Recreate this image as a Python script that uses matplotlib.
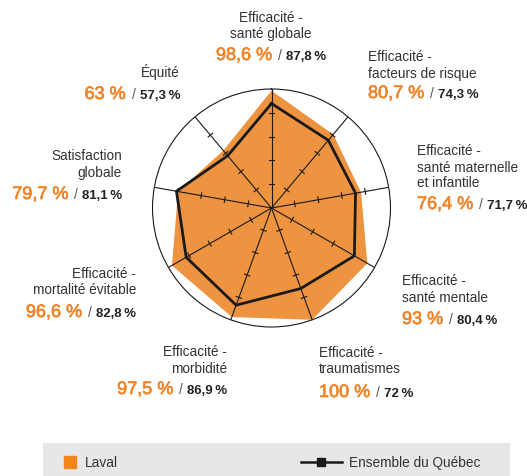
import numpy as np
import matplotlib
matplotlib.use('Agg')
import matplotlib.pyplot as plt
import matplotlib.patheffects as pe
from matplotlib.lines import Line2D
from matplotlib.patches import Rectangle

plt.rcParams['font.family'] = ['Liberation Sans', 'DejaVu Sans']

# data, clockwise from the top
labels = ['Efficacité -\nsanté globale',
          'Efficacité -\nfacteurs de risque',
          'Efficacité -\nsanté maternelle\net infantile',
          'Efficacité -\nsanté mentale',
          'Efficacité -\ntraumatismes',
          'Efficacité -\nmorbidité',
          'Efficacité -\nmortalité évitable',
          'Satisfaction\nglobale',
          'Équité']
laval = [98.6, 80.7, 76.4, 93, 100, 97.5, 96.6, 79.7, 63]
quebec = [87.8, 74.3, 71.7, 80.4, 72, 86.9, 82.8, 81.1, 57.3]

# label layout: x (px), ha, baseline y of each text line (px from top), baseline of value line
label_pos = [
    (271, 'center', [22, 38], 60),
    (368, 'left', [61, 78], 98),
    (417, 'left', [155, 172, 187], 209),
    (402, 'left', [285, 302], 324),
    (319, 'left', [357, 373], 397),
    (227, 'right', [356, 373], 394),
    (136, 'right', [278, 294], 317),
    (122, 'right', [160, 177], 199),
    (180, 'right', [77], 99),
]

W, H = 527, 476
orange_fill = '#ee9440'
orange_txt = '#f0852a'
dark = '#222222'
txt = '#333333'

fig = plt.figure(figsize=(W / 100, H / 100), dpi=100)
renderer = fig.canvas.get_renderer()

cx, cy, R = 271.5, 208, 119
ax = fig.add_axes([(cx - R) / W, (H - cy - R) / H, 2 * R / W, 2 * R / H], projection='polar')
ax.set_theta_zero_location('N')
ax.set_theta_direction(-1)

n = len(laval)
theta = np.deg2rad(np.arange(n) * 360 / n)
th = np.append(theta, theta[0])

ax.fill(th, laval + laval[:1], color=orange_fill, lw=0, zorder=1)
ax.plot(th, quebec + quebec[:1], color='#1a1a1a', lw=2, zorder=3, solid_joinstyle='miter')

ax.set_ylim(0, 100)
ax.set_rticks([])
ax.set_thetagrids(np.rad2deg(theta), labels=[''] * n)
ax.xaxis.grid(True, color='#1a1a1a', lw=0.8)
ax.spines['polar'].set_linewidth(0.8)
ax.spines['polar'].set_color('#1a1a1a')
ax.set_facecolor('none')

# small ticks across the spokes
for t in theta:
    for r in [20, 40, 60, 80]:
        d = 2.4 / r
        ax.plot([t - d, t + d], [r, r], color='#1a1a1a', lw=0.8, zorder=1.6)


def fx(x):
    return x / W


def fy(y):
    return 1 - y / H


def value_line(x, y, a, b, ha):
    sa = f'{a:g}'.replace('.', ',') + ' %'
    sb = f'{b:g}'.replace('.', ',') + '\u2009%'
    parts = [(sa, orange_txt, 13, 'normal'), ('/', '#555555', 10, 'normal'),
             (sb, dark, 9.5, 'bold')]
    gaps = [6, 4]
    objs = [fig.text(0, fy(y), s, color=c, fontsize=fs, fontweight=fw, va='baseline')
            for s, c, fs, fw in parts]
    objs[0].set_path_effects([pe.withStroke(linewidth=0.5, foreground=orange_txt)])
    widths = [o.get_window_extent(renderer).width for o in objs]
    total = sum(widths) + sum(gaps)
    if ha == 'left':
        x0 = x
    elif ha == 'right':
        x0 = x - total
    else:
        x0 = x - total / 2
    for i, o in enumerate(objs):
        o.set_x(fx(x0))
        x0 += widths[i] + (gaps[i] if i < 2 else 0)


for lab, (x, ha, ys, yv), a, b in zip(labels, label_pos, laval, quebec):
    for line, y in zip(lab.split('\n'), ys):
        fig.text(fx(x), fy(y), line, ha=ha, va='baseline', fontsize=9.8, color=txt)
    value_line(x, yv, a, b, ha)

# legend band
fig.add_artist(Rectangle((fx(43), 0), fx(510) - fx(43), 33 / H, transform=fig.transFigure,
                         facecolor='#e6e7e8', edgecolor='none'))
h1 = Line2D([], [], marker='s', color='none', markerfacecolor='#f0851f',
            markeredgecolor='#f0851f', markersize=9)
h2 = Line2D([], [], color='#1a1a1a', lw=1.8, marker='s', markersize=6)
fig.legend([h1], ['Laval'], loc='center left', bbox_to_anchor=(fx(62), fy(463)),
           frameon=False, fontsize=9.8, handlelength=1.2, handletextpad=0.5,
           borderpad=0, borderaxespad=0, labelcolor=txt)
fig.legend([h2], ['Ensemble du Québec'], loc='center left', bbox_to_anchor=(fx(301), fy(463)),
           frameon=False, fontsize=9.8, handlelength=3.0, handletextpad=0.5,
           borderpad=0, borderaxespad=0, labelcolor=txt)

fig.savefig('out.png', dpi=100)
